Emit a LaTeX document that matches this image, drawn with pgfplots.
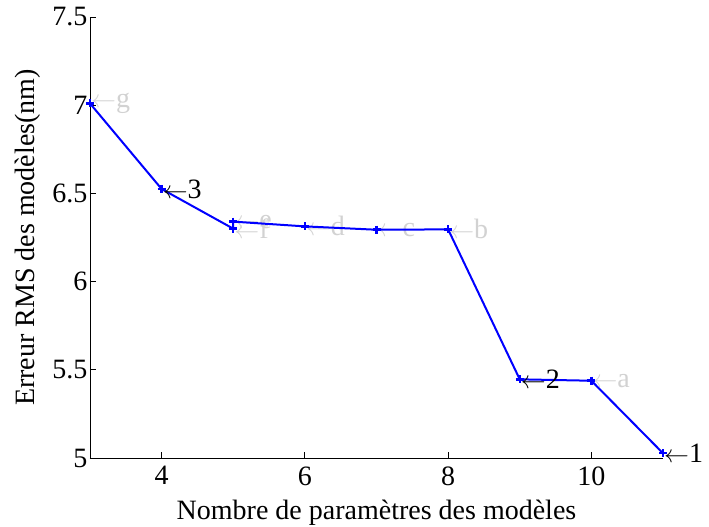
\documentclass[border=0pt]{standalone}
\usepackage{fontspec}
\setmainfont{Liberation Serif}
\usepackage{pgfplots}
\pgfplotsset{compat=1.18}
\definecolor{lgray}{RGB}{210,210,210}
\begin{document}
\begin{tikzpicture}[font=\fontsize{28}{32}\selectfont]
\begin{axis}[
    scale only axis,
    width=573pt, height=441pt,
    xmin=3, xmax=11, ymin=5, ymax=7.5,
    axis x line*=bottom, axis y line*=left,
    axis line style={-, line width=0.8pt},
    xtick={4,6,8,10},
    xticklabels={4,6,8,10},
    ytick={5,5.5,6,6.5,7,7.5},
    yticklabels={5,5.5,6,6.5,7,7.5},
    tick align=inside, major tick length=6pt,
    tick style={black, line width=0.8pt},
    xticklabel style={yshift=-5pt},
    yticklabel style={xshift=1pt},
    xlabel={Nombre de paramètres des modèles},
    ylabel={Erreur RMS des modèles(nm)},
    xlabel style={yshift=-8pt},
    ylabel style={yshift=5pt},
    clip=false,
]
\node[anchor=west, text=lgray, inner sep=1pt] at (axis cs:3,7.01) {$\leftarrow$g};
\node[anchor=west, text=lgray, inner sep=1pt] at (axis cs:5,6.34) {$\leftarrow$e};
\node[anchor=west, text=lgray, inner sep=1pt] at (axis cs:5,6.30) {$\leftarrow$f};
\node[anchor=west, text=lgray, inner sep=1pt] at (axis cs:6,6.313) {$\leftarrow$d};
\node[anchor=west, text=lgray, inner sep=1pt] at (axis cs:7,6.294) {$\leftarrow$c};
\node[anchor=west, text=lgray, inner sep=1pt] at (axis cs:8,6.296) {$\leftarrow$b};
\node[anchor=west, text=lgray, inner sep=1pt] at (axis cs:10,5.438) {$\leftarrow$a};

\addplot[color=blue, line width=2pt, mark=+, mark size=4pt,
    mark options={line width=2.5pt}]
    coordinates {
    (3,7.01)(4,6.525)(5,6.30)(5,6.34)(6,6.313)(7,6.294)(8,6.296)
    (9,5.446)(10,5.438)(11,5.027)
    };

\node[anchor=west, text=black, inner sep=1pt] at (axis cs:4,6.525) {$\leftarrow$3};
\node[anchor=west, text=black, inner sep=1pt] at (axis cs:9,5.446) {$\leftarrow$2};
\node[anchor=west, text=black, inner sep=1pt] at (axis cs:11,5.027) {$\leftarrow$1};
\end{axis}
\pgfresetboundingbox
\path[use as bounding box] ([xshift=-90pt,yshift=-69pt]current axis.south west) rectangle ++(709pt,527pt);
\end{tikzpicture}
\end{document}
